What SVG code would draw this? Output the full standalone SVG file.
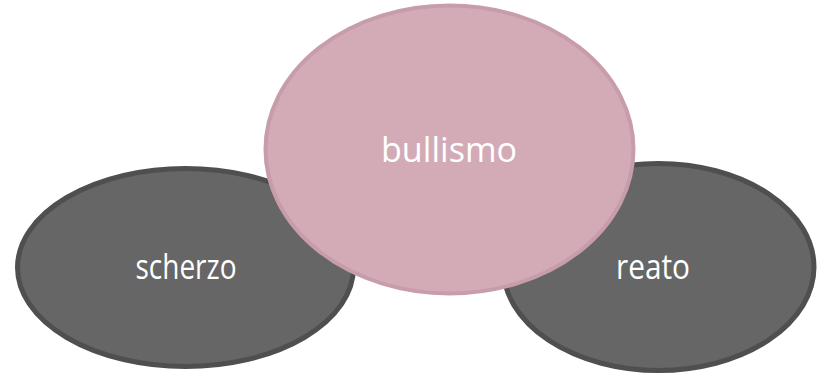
<svg xmlns="http://www.w3.org/2000/svg" width="823" height="375" viewBox="0 0 823 375">
<style>
.dark{fill:#666666;stroke:#4f4f4f;stroke-width:5}
.pink{fill:#d3abb6;stroke:#c89dab;stroke-width:4}
.lbl{fill:#ffffff;font-family:"Open Sans","DejaVu Sans",sans-serif;font-size:34px;text-anchor:middle}
</style>
<rect width="823" height="375" fill="#ffffff"/>
<g id="node-scherzo">
<ellipse class="dark" cx="185.5" cy="267.5" rx="168" ry="99"/>
<text class="lbl" x="186" y="279" textLength="101" lengthAdjust="spacingAndGlyphs">scherzo</text>
</g>
<g id="node-reato">
<ellipse class="dark" cx="658.5" cy="267" rx="155.5" ry="103.5"/>
<text class="lbl" x="653" y="279" textLength="74" lengthAdjust="spacingAndGlyphs">reato</text>
</g>
<g id="node-bullismo">
<ellipse class="pink" cx="449.5" cy="149.5" rx="184" ry="144"/>
<text class="lbl" x="449" y="162" textLength="136" lengthAdjust="spacingAndGlyphs">bullismo</text>
</g>
<g id="connectors"/>
</svg>
